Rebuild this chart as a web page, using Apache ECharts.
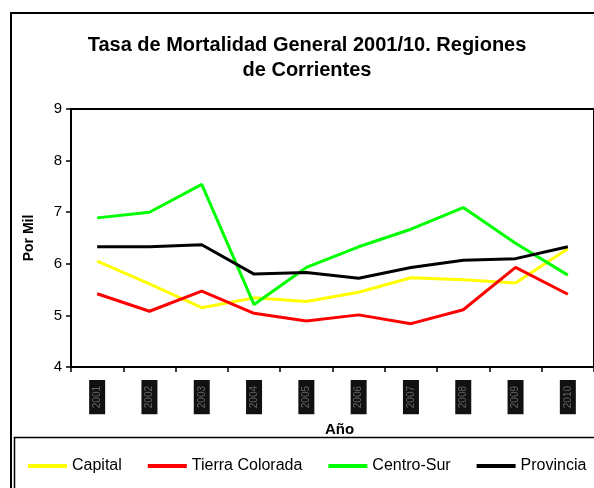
<!DOCTYPE html>
<html>
<head>
<meta charset="utf-8">
<script src="https://cdn.jsdelivr.net/npm/echarts@6/dist/echarts.min.js"></script>
<style>
  html, body { margin: 0; padding: 0; background: #fff; }
  #main { width: 594px; height: 488px; }
</style>
</head>
<body>
<div id="main"></div>
<script>
var chartDom = document.getElementById('main');
var myChart = echarts.init(chartDom);
var option;

// data
var years = ['2001', '2002', '2003', '2004', '2005', '2006', '2007', '2008', '2009', '2010'];
var capital = [6.05, 5.61, 5.15, 5.34, 5.27, 5.45, 5.73, 5.69, 5.63, 6.29];
var tierraColorada = [5.42, 5.08, 5.47, 5.04, 4.89, 5.01, 4.84, 5.11, 5.93, 5.41];
var centroSur = [6.89, 7.00, 7.54, 5.21, 5.93, 6.33, 6.67, 7.09, 6.40, 5.78];
var provincia = [6.33, 6.33, 6.37, 5.80, 5.83, 5.72, 5.93, 6.07, 6.10, 6.33];

var font = 'Liberation Sans, Arial, sans-serif';

function lineSeries(name, data, color) {
    return {
        name: name,
        type: 'line',
        data: data,
        symbol: 'none',
        lineStyle: { color: color, width: 3 },
        itemStyle: { color: color }
    };
}

option = {
    animation: false,
    backgroundColor: '#fff',
    title: {
        text: 'Tasa de Mortalidad General 2001/10. Regiones\nde Corrientes',
        left: 302,
        textAlign: 'center',
        top: 28,
        textStyle: {
            fontFamily: font,
            fontSize: 20,
            fontWeight: 'bold',
            lineHeight: 25,
            color: '#000'
        }
    },
    graphic: [
        // outer chart frame
        { type: 'rect', shape: { x: 11, y: 13, width: 700, height: 600 },
          style: { fill: 'none', stroke: '#000', lineWidth: 2 }, z: -1 },
        // legend box
        { type: 'rect', shape: { x: 14.5, y: 437.5, width: 700, height: 200 },
          style: { fill: 'none', stroke: '#000', lineWidth: 1.5 }, z: -1 }
    ],
    legend: {
        left: 28,
        top: 458,
        padding: 0,
        icon: 'rect',
        itemWidth: 39,
        itemHeight: 4,
        itemGap: 26,
        textStyle: { fontFamily: font, fontSize: 16, color: '#000' },
        data: ['Capital', 'Tierra Colorada', 'Centro-Sur', 'Provincia']
    },
    grid: {
        left: 71,
        top: 109,
        width: 524,
        height: 258,
        show: true,
        borderColor: '#000',
        borderWidth: 2
    },
    xAxis: {
        type: 'category',
        data: years,
        boundaryGap: true,
        name: 'Año',
        nameLocation: 'middle',
        nameGap: 49,
        nameTextStyle: { fontFamily: font, fontSize: 15, fontWeight: 'bold', color: '#000', padding: [0, 0, 0, 14] },
        axisLine: { lineStyle: { color: '#000', width: 2 } },
        axisTick: { show: true, length: 5, lineStyle: { color: '#000', width: 1.5 } },
        axisLabel: {
            rotate: 90,
            margin: 13,
            fontFamily: font,
            fontSize: 10,
            color: '#666',
            backgroundColor: '#111',
            padding: [2, 6],
            lineHeight: 12
        },
        splitLine: { show: false }
    },
    yAxis: {
        type: 'value',
        min: 4,
        max: 9,
        interval: 1,
        name: 'Por Mil',
        nameLocation: 'middle',
        nameRotate: 90,
        nameGap: 35,
        nameTextStyle: { fontFamily: font, fontSize: 14, fontWeight: 'bold', color: '#000' },
        axisLine: { show: true, lineStyle: { color: '#000', width: 2 } },
        axisTick: { show: true, length: 5, lineStyle: { color: '#000', width: 1.5 } },
        axisLabel: { fontFamily: font, fontSize: 15, color: '#000', margin: 9 },
        splitLine: { show: false }
    },
    series: [
        lineSeries('Capital', capital, '#ffff00'),
        lineSeries('Tierra Colorada', tierraColorada, '#ff0000'),
        lineSeries('Centro-Sur', centroSur, '#00ff00'),
        lineSeries('Provincia', provincia, '#000000')
    ]
};

option && myChart.setOption(option);
</script>
</body>
</html>
